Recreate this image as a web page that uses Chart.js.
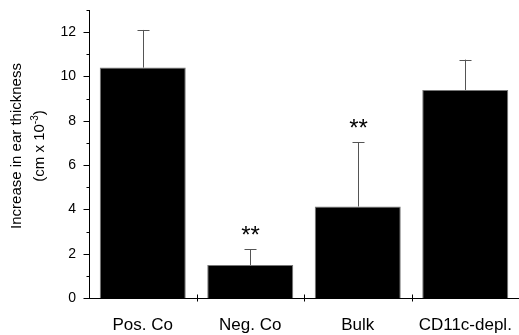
<!DOCTYPE html>
<html lang="en">
<head>
<meta charset="UTF-8">
<title>Ear thickness</title>
<script src="https://cdn.jsdelivr.net/npm/chart.js@4.4.0/dist/chart.umd.min.js"></script>
<style>
  body { margin: 0; background: #fff; }
  #wrap { width: 519px; height: 335px; }
</style>
</head>
<body>
<div id="wrap"><canvas id="chart"></canvas></div>
<script>
const groups = ['Pos. Co', 'Neg. Co', 'Bulk', 'CD11c-depl.'];
const means = [10.4, 1.49, 4.13, 9.39];
const errors = [1.7, 0.71, 2.9, 1.37];
const marks = ['', '**', '**', ''];
const yTicks = [0, 1, 2, 3, 4, 5, 6, 7, 8, 9, 10, 11, 12, 13];

const FONT = '"Liberation Sans", Arial, sans-serif';

// axis ticks, error bars, significance stars and the y title
const extras = {
  id: 'extras',
  afterDatasetsDraw(chart) {
    const ctx = chart.ctx;
    const x = chart.scales.x, y = chart.scales.y;
    const meta = chart.getDatasetMeta(0);
    ctx.save();

    // error bars (upper only)
    ctx.strokeStyle = '#555';
    ctx.lineWidth = 1;
    meta.data.forEach((bar, i) => {
      const cx = Math.round(bar.x) + 0.5;
      const top = y.getPixelForValue(means[i] + errors[i]);
      ctx.beginPath();
      ctx.moveTo(cx, bar.y);
      ctx.lineTo(cx, top);
      ctx.moveTo(cx - 6, Math.round(top) + 0.5);
      ctx.lineTo(cx + 6, Math.round(top) + 0.5);
      ctx.stroke();

      if (marks[i]) {
        ctx.fillStyle = '#000';
        ctx.font = '24px ' + FONT;
        ctx.textAlign = 'center';
        ctx.textBaseline = 'middle';
        ctx.fillText(marks[i], cx, top - 13);
      }
    });

    // y ticks: major every 2, minor between
    ctx.strokeStyle = '#000';
    const ax = Math.round(x.left) + 0.5;
    yTicks.forEach(v => {
      const py = Math.round(y.getPixelForValue(v)) + 0.5;
      const len = v % 2 === 0 ? 6 : 3;
      ctx.beginPath();
      ctx.moveTo(ax - len, py);
      ctx.lineTo(ax, py);
      ctx.stroke();
    });

    // x ticks between groups
    const by = Math.round(y.bottom) + 0.5;
    for (let i = 0; i < groups.length - 1; i++) {
      const px = Math.round((x.getPixelForValue(i) + x.getPixelForValue(i + 1)) / 2) + 0.5;
      ctx.beginPath();
      ctx.moveTo(px, by - 4);
      ctx.lineTo(px, by + 3);
      ctx.stroke();
    }

    // y title with superscript
    const mid = 146;
    ctx.fillStyle = '#000';
    ctx.translate(0, mid);
    ctx.rotate(-Math.PI / 2);
    ctx.textBaseline = 'middle';
    ctx.textAlign = 'center';
    ctx.font = '15px ' + FONT;
    ctx.fillText('Increase in ear thickness', 0, 17);

    const a = '(cm x 10', sup = '-3', b = ')';
    const wa = ctx.measureText(a).width, wb = ctx.measureText(b).width;
    ctx.font = '10px ' + FONT;
    const ws = ctx.measureText(sup).width;
    const sx = -(wa + ws + wb) / 2;
    ctx.textAlign = 'left';
    ctx.font = '15px ' + FONT;
    ctx.fillText(a, sx, 40);
    ctx.font = '10px ' + FONT;
    ctx.fillText(sup, sx + wa, 35);
    ctx.font = '15px ' + FONT;
    ctx.fillText(b, sx + wa + ws, 40);
    ctx.restore();
  }
};

new Chart(document.getElementById('chart'), {
  type: 'bar',
  data: {
    labels: groups,
    datasets: [{
      data: means,
      backgroundColor: '#000',
      borderColor: '#777',
      borderWidth: 1,
      barPercentage: 0.8,
      categoryPercentage: 1.0
    }]
  },
  options: {
    responsive: true,
    maintainAspectRatio: false,
    animation: false,
    layout: { padding: { top: 10, right: 0, left: 0, bottom: 0 } },
    plugins: { legend: { display: false }, tooltip: { enabled: false } },
    scales: {
      x: {
        grid: { display: false },
        border: { color: '#000', width: 1 },
        ticks: {
          color: '#000',
          font: { family: FONT, size: 17 },
          padding: 9,
          maxRotation: 0,
          autoSkip: false
        },
        afterFit(s) { s.height = 37; s.paddingLeft = 0; s.paddingRight = 0; }
      },
      y: {
        min: 0,
        max: 13,
        grid: { display: false },
        border: { color: '#000', width: 1 },
        ticks: {
          stepSize: 1,
          color: '#000',
          font: { family: FONT, size: 14 },
          padding: 5,
          callback: v => (v % 2 === 0 ? v : '')
        },
        afterFit(s) { s.width = 89; s.paddingTop = 0; s.paddingBottom = 0; }
      }
    }
  },
  plugins: [extras]
});
</script>
</body>
</html>
